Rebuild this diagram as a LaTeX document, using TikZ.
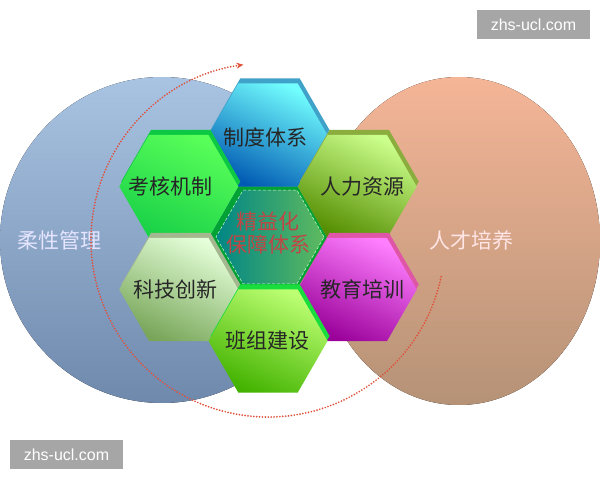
\documentclass[tikz,border=0pt]{standalone}
\usepackage{fontspec}
\newfontfamily\cjk{Noto Sans CJK SC}
\newfontfamily\wmfont{Liberation Sans}
\usetikzlibrary{arrows.meta,calc}

\definecolor{blueTop}{HTML}{A9C3E2}
\definecolor{blueBot}{HTML}{6F89AD}
\definecolor{salmonTop}{HTML}{F5B597}
\definecolor{salmonBot}{HTML}{B59276}
\definecolor{arcRed}{HTML}{E0503A}
\definecolor{coreRed}{HTML}{C04646}
\definecolor{wmGrey}{HTML}{A6A6A6}

% hexagon with flat top and bottom: centre x, centre y, radius
\newcommand{\hexat}[3]{([shift={(#1,#2)}]0:#3) -- ([shift={(#1,#2)}]60:#3)
  -- ([shift={(#1,#2)}]120:#3) -- ([shift={(#1,#2)}]180:#3)
  -- ([shift={(#1,#2)}]240:#3) -- ([shift={(#1,#2)}]300:#3) -- cycle}

\begin{document}
\begin{tikzpicture}[x=1pt,y=1pt,
    celltext/.style={font=\cjk\fontsize{21}{24}\selectfont, text=black!85, inner sep=0pt},
    sidelabel/.style={font=\cjk\fontsize{21}{24}\selectfont, inner sep=0pt},
    arcline/.style={arcRed, line width=1.9pt, line cap=round,
      dash pattern=on 0pt off 2.9pt, -{Stealth[length=7pt,width=6pt]}},
    wmbox/.style={fill=wmGrey, text=white, minimum width=113pt, minimum height=29pt,
      inner sep=0pt, font=\wmfont\fontsize{16}{18}\selectfont}]
  \useasboundingbox[fill=white] (0,0) rectangle (600,480);

  % two circles
  \fill[top color=blueTop, bottom color=blueBot] (162,240) ellipse [x radius=162, y radius=163];
  \fill[top color=salmonTop, bottom color=salmonBot] (459,239) ellipse [x radius=141, y radius=164];
  \node[sidelabel, text=white!90!blue] (rouxing) at (59,240) {柔性管理};
  \node[sidelabel, text=white!90!red] (rencai) at (471,240) {人才培养};

  % dotted circulation arc
  \coordinate (arcstart) at ($(268,240)+(-12:177)$);
  \draw[arcline] (arcstart) arc[start angle=-12, end angle=-262, radius=177];

  % core cell
  \fill[green!50!teal!85!black] \hexat{268}{242}{59.5};
  \shade[left color=teal!60!cyan!75!black, right color=green!40!gray!90] \hexat{270}{243}{54};
  \draw[white!80!green, densely dashed, line width=0.5pt] \hexat{270}{243}{54};
  \node[celltext, text=coreRed, align=center] (core) at (268,246.5) {精益化\\[-1pt]保障体系};

  % outer cells: back face, then front face, then label
  \fill[cyan!55!teal!90] \hexat{270}{350}{59.5};
  \shade[top color=cyan!55!white, bottom color=cyan!50!blue!70!black, shading angle=-25] \hexat{268}{345}{59.5};
  \node[celltext] (zhidu) at (265,343) {制度体系};

  \fill[green!55!teal!95] \hexat{180.75}{298.5}{59.5};
  \shade[top color=green!65!white, bottom color=green!60!teal!90, shading angle=-25] \hexat{178.75}{293.5}{59.5};
  \node[celltext] (kaohe) at (170.5,293.5) {考核机制};

  \fill[yellow!60!green!75!black] \hexat{359.25}{298.5}{59.5};
  \shade[top color=yellow!55!green!45!white, bottom color=yellow!60!green!55!black, shading angle=-25] \hexat{357.25}{293.5}{59.5};
  \node[celltext] (renli) at (362,293.5) {人力资源};

  \fill[yellow!40!green!35!gray!80] \hexat{180.75}{195.5}{59.5};
  \shade[top color=yellow!30!green!15!white, bottom color=yellow!40!green!30!gray, shading angle=-25] \hexat{178.75}{190.5}{59.5};
  \node[celltext] (keji) at (175,190.5) {科技创新};

  \fill[magenta!70!white!90!black] \hexat{359.25}{195.5}{59.5};
  \shade[top color=magenta!50!white, bottom color=magenta!60!black, shading angle=-25] \hexat{357.25}{190.5}{59.5};
  \node[celltext] (jiaoyu) at (362,190.5) {教育培训};

  \fill[green!70!teal!90] \hexat{270}{144}{59.5};
  \shade[top color=lime!70!green!55!white, bottom color=lime!50!green!70!black, shading angle=-25] \hexat{268}{139}{59.5};
  \node[celltext] (banzu) at (267,139) {班组建设};

  % watermarks
  \node[wmbox] (wmtop) at (533.5,455.5) {zhs-ucl.com};
  \node[wmbox] (wmbottom) at (66.5,25.5) {zhs-ucl.com};
\end{tikzpicture}
\end{document}
